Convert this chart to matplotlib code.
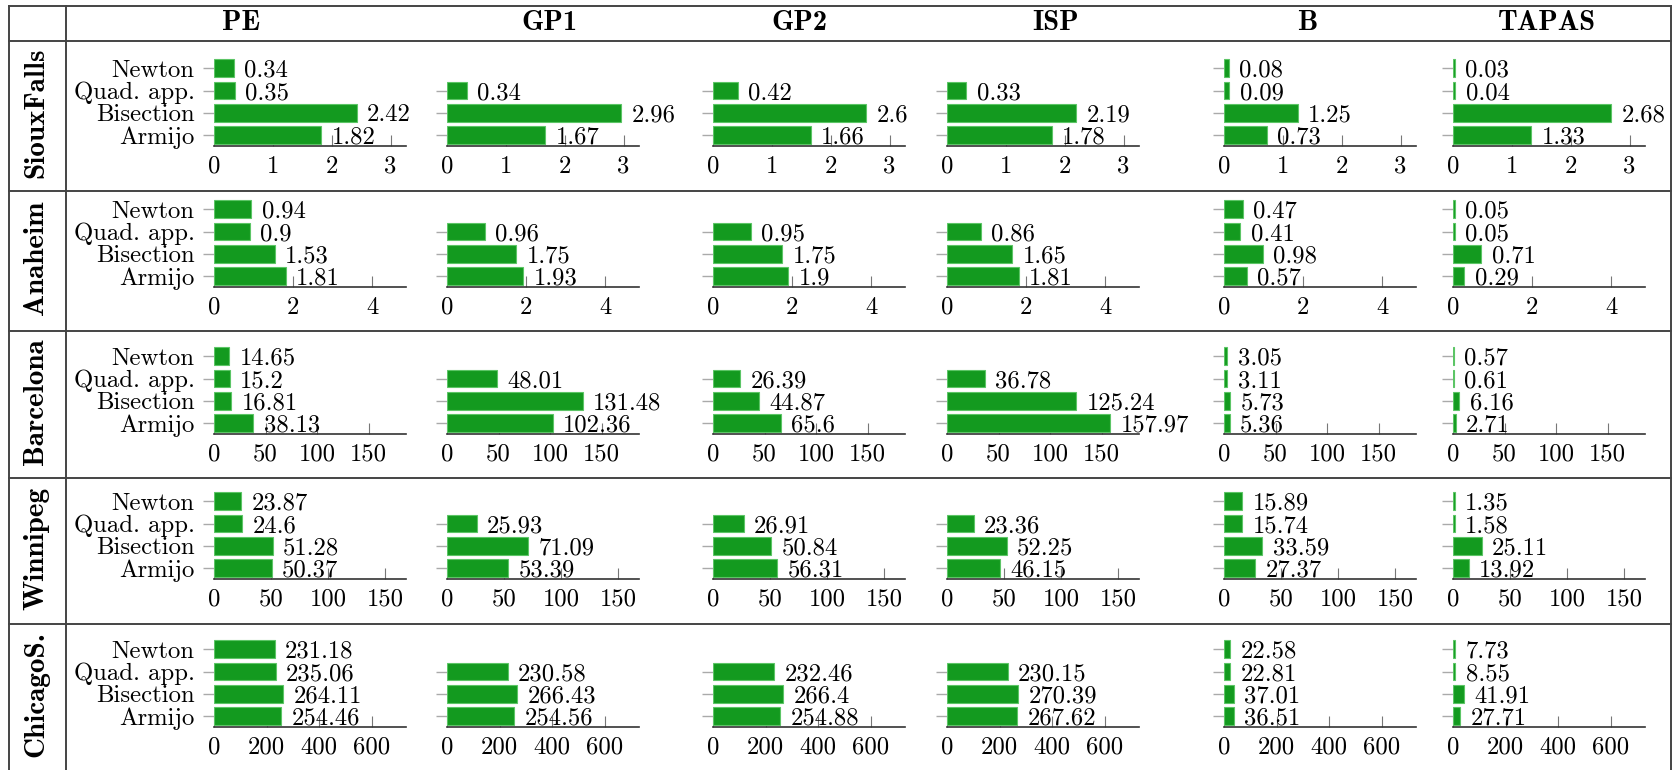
import matplotlib.pyplot as plt
from matplotlib.lines import Line2D

networks = ['SiouxFalls', 'Anaheim', 'Barcelona', 'Winnipeg', 'ChicagoS.']
methods = ['PE', 'GP1', 'GP2', 'ISP', 'B', 'TAPAS']
line_search = ['Newton', 'Quad. app.', 'Bisection', 'Armijo']

# run time per method, in line_search order (None = not run)
sioux_falls = [[0.34, 0.35, 2.42, 1.82], [None, 0.34, 2.96, 1.67], [None, 0.42, 2.6, 1.66],
               [None, 0.33, 2.19, 1.78], [0.08, 0.09, 1.25, 0.73], [0.03, 0.04, 2.68, 1.33]]
anaheim = [[0.94, 0.9, 1.53, 1.81], [None, 0.96, 1.75, 1.93], [None, 0.95, 1.75, 1.9],
           [None, 0.86, 1.65, 1.81], [0.47, 0.41, 0.98, 0.57], [0.05, 0.05, 0.71, 0.29]]
barcelona = [[14.65, 15.2, 16.81, 38.13], [None, 48.01, 131.48, 102.36], [None, 26.39, 44.87, 65.6],
             [None, 36.78, 125.24, 157.97], [3.05, 3.11, 5.73, 5.36], [0.57, 0.61, 6.16, 2.71]]
winnipeg = [[23.87, 24.6, 51.28, 50.37], [None, 25.93, 71.09, 53.39], [None, 26.91, 50.84, 56.31],
            [None, 23.36, 52.25, 46.15], [15.89, 15.74, 33.59, 27.37], [1.35, 1.58, 25.11, 13.92]]
chicago_sketch = [[231.18, 235.06, 264.11, 254.46], [None, 230.58, 266.43, 254.56], [None, 232.46, 266.4, 254.88],
                  [None, 230.15, 270.39, 267.62], [22.58, 22.81, 37.01, 36.51], [7.73, 8.55, 41.91, 27.71]]
all_data = [sioux_falls, anaheim, barcelona, winnipeg, chicago_sketch]

x_ticks = [[0, 1, 2, 3], [0, 2, 4], [0, 50, 100, 150], [0, 50, 100, 150], [0, 200, 400, 600]]
x_max = [3.26, 4.85, 186, 168, 730]

# layout in pixels
W, H = 1680, 770
col_x = [214, 447, 713, 947, 1224, 1453]
row_bottom = [146, 287, 434, 579, 727]
ax_w = 192
unit = 22.2
title_x = [241.5, 549.5, 799, 1056, 1307, 1547]
h_lines = [6, 41, 191, 331, 478, 624]
left_x, div_x, right_x = 9, 66, 1671

GREEN = '#139a1f'
EDGE = '#5cc566'
RM = 'cmr10'
BF = 'cmb10'
FS = 17.8

fig = plt.figure(figsize=(W / 100, H / 100), dpi=100)


def px_rect(x0, y_bot, w, h):
    return [x0 / W, 1 - y_bot / H, w / W, h / H]


for r, net_data in enumerate(all_data):
    for c, vals in enumerate(net_data):
        ax = fig.add_axes(px_rect(col_x[c], row_bottom[r], ax_w, 4 * unit))
        ypos = []
        widths = []
        for i, v in enumerate(vals):
            if v is None:
                continue
            ypos.append(3 - i)
            widths.append(v)
        ax.barh(ypos, widths, height=0.8, color=GREEN, edgecolor=EDGE, linewidth=0.8, zorder=2)
        for y, v in zip(ypos, widths):
            ax.annotate('{:g}'.format(v), (v, y), xytext=(7.5, 0), textcoords='offset points',
                        ha='left', va='center_baseline', fontsize=FS, family=RM, zorder=3)
        ax.set_xlim(0, x_max[r])
        ax.set_ylim(-0.5, 3.5)
        ax.set_axisbelow(True)
        for s in ['top', 'right', 'left']:
            ax.spines[s].set_visible(False)
        ax.spines['bottom'].set_color('#333333')
        ax.spines['bottom'].set_linewidth(1.2)
        ax.set_xticks(x_ticks[r])
        ax.set_xticklabels([str(t) for t in x_ticks[r]], family=RM, fontsize=FS)
        ax.tick_params(axis='x', direction='in', length=8, width=0.8, color='#777777', pad=7)
        ax.set_yticks(ypos)
        if c == 0:
            ax.set_yticklabels([line_search[3 - y] for y in ypos], family=RM, fontsize=FS)
        else:
            ax.set_yticklabels([])
        ax.tick_params(axis='y', direction='out', length=8, width=1.0, color='#aaaaaa', pad=6)
        ax.patch.set_visible(False)

# table frame
for y in h_lines:
    fig.add_artist(Line2D([left_x / W, right_x / W], [1 - y / H, 1 - y / H], color='#444444', lw=1.4))
for x in [left_x, div_x, right_x]:
    fig.add_artist(Line2D([x / W, x / W], [1 - h_lines[0] / H, 0], color='#444444', lw=1.4))

for c, m in enumerate(methods):
    fig.text(title_x[c] / W, 1 - 23 / H, m, ha='center', va='center', family=BF, fontsize=20.5)

row_edges = h_lines[1:] + [770]
for r, net in enumerate(networks):
    yc = (row_edges[r] + row_edges[r + 1]) / 2 - 3
    fig.text(36 / W, 1 - yc / H, net, ha='center', va='center', rotation=90, family=BF, fontsize=21)

fig.savefig('out.png', dpi=100)
